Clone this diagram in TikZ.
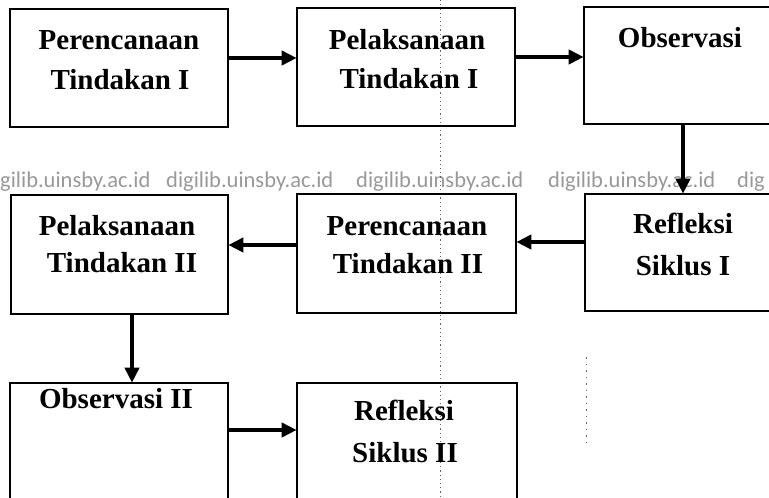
\documentclass[tikz,border=0pt]{standalone}
\usepackage{fontspec}
\setmainfont{Liberation Serif}
\newfontfamily\wmfont{Carlito}
\usetikzlibrary{arrows.meta}
\begin{document}
\begin{tikzpicture}[x=1pt,y=-1pt,
  box/.style={draw=black, line width=2.6pt, minimum width=218pt, minimum height=118pt, inner sep=0pt},
  lbl/.style={anchor=base, inner sep=0pt, font=\fontsize{29}{34}\selectfont\bfseries},
  wm/.style={anchor=base west, inner sep=0pt, text=black!40, font=\wmfont\fontsize{22.5}{26}\selectfont},
  arr/.style={line width=4.5pt, -{Triangle[length=15pt,width=14pt]}, shorten >=-1pt},
  scanline/.style={black!60, line width=0.6pt, dash pattern=on 1.2pt off 3pt}]
\clip (0,0) rectangle (769,498);
\fill[white] (0,0) rectangle (769,498);
% watermark
\node[wm] (w1) at (0,187) {gilib.uinsby.ac.id};
\node[wm] (w2) at (166,187) {digilib.uinsby.ac.id};
\node[wm] (w3) at (356,187) {digilib.uinsby.ac.id};
\node[wm] (w4) at (548,187) {digilib.uinsby.ac.id};
\node[wm] (w5) at (737,187) {dig};
% scan artefacts
\coordinate (s1) at (440,0);
\coordinate (s2) at (440,498);
\coordinate (s3) at (586,357);
\coordinate (s4) at (586,446);
\draw[scanline] (s1) -- (s2);
\draw[scanline, line width=1pt, dash pattern=on 1.5pt off 5pt] (s3) -- (s4);
% boxes
\node[box] (b1) at (119,68) {};
\node[box] (b2) at (406,67) {};
\node[box, minimum width=198pt, minimum height=117pt] (b3) at (683,65.5) {};
\node[box, minimum width=217pt, minimum height=119pt] (b4) at (119.5,254.5) {};
\node[box, minimum width=219pt, minimum height=119pt] (b5) at (406.5,253.5) {};
\node[box, minimum width=196pt, minimum height=117pt] (b6) at (683,252.5) {};
\node[box] (b7) at (119,442) {};
\node[box, minimum width=220pt] (b8) at (407,442) {};
% labels
\node[lbl] (t1a) at (119,49) {Perencanaan};
\node[lbl] (t1b) at (120,89) {Tindakan I};
\node[lbl] (t2a) at (407,49) {Pelaksanaan};
\node[lbl] (t2b) at (409,88) {Tindakan I};
\node[lbl] (t3a) at (680,47) {Observasi};
\node[lbl] (t4a) at (117,235) {Pelaksanaan};
\node[lbl] (t4b) at (122,272) {Tindakan II};
\node[lbl] (t5a) at (407,235) {Perencanaan};
\node[lbl] (t5b) at (408,273) {Tindakan II};
\node[lbl] (t6a) at (683,233) {Refleksi};
\node[lbl] (t6b) at (683,275) {Siklus I};
\node[lbl] (t7a) at (116,408) {Observasi II};
\node[lbl] (t8a) at (404,420) {Refleksi};
\node[lbl] (t8b) at (405,462) {Siklus II};
% connectors
\draw[arr] ([yshift=10pt]b1.east) -- ([yshift=9pt]b2.west);
\draw[arr] ([yshift=10pt]b2.east) -- ([yshift=8.5pt]b3.west);
\draw[arr] (b3.south) -- (b6.north);
\draw[arr] ([yshift=10.5pt]b6.west) -- ([yshift=11.5pt]b5.east);
\draw[arr] ([yshift=8.5pt]b5.west) -- ([yshift=9.5pt]b4.east);
\draw[arr] ([xshift=12.5pt]b4.south) -- ([xshift=13pt]b7.north);
\draw[arr] ([yshift=12pt]b7.east) -- ([yshift=12pt]b8.west);
\end{tikzpicture}
\end{document}
